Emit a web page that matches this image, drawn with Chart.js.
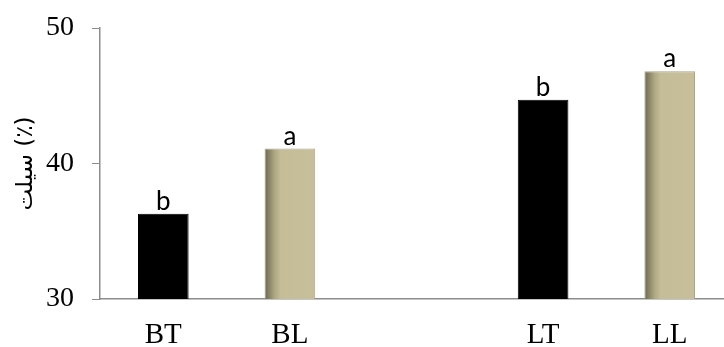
<!DOCTYPE html>
<html>
<head>
    <title>Silt chart</title>
    <script src="https://cdn.jsdelivr.net/npm/chart.js"></script>
    <style>
        body {
            margin: 0;
            padding: 0;
            background: white;
            overflow: hidden;
        }
        #chart-container {
            width: 734px;
            height: 347px;
        }
    </style>
</head>
<body>

<div id="chart-container">
    <canvas id="siltChart"></canvas>
</div>

<script>
    // categories (empty slot makes the gap between the two groups)
    const labels = ['BT', 'BL', '', 'LT', 'LL'];
    const siltValues = [36.3, 41.1, null, 44.7, 46.8];
    const letters = ['b', 'a', '', 'b', 'a'];
    const yTicks = [30, 40, 50];

    const barPct = 0.4;

    function barColor(ctx) {
        const i = ctx.dataIndex;
        if (i === 0 || i === 3) return '#000000';
        const chart = ctx.chart;
        const xs = chart.scales.x;
        if (!xs || !chart.chartArea) return '#c4bd97';
        const cx = xs.getPixelForValue(i);
        const half = xs.width / labels.length * barPct / 2;
        const g = chart.ctx.createLinearGradient(cx - half, 0, cx + half, 0);
        g.addColorStop(0, '#6b664f');
        g.addColorStop(0.2, '#aea883');
        g.addColorStop(0.32, '#c4bd97');
        g.addColorStop(1, '#c6bf9a');
        return g;
    }

    const letterPlugin = {
        id: 'letters',
        afterDatasetsDraw(chart) {
            const c = chart.ctx;
            const meta = chart.getDatasetMeta(0);
            c.save();
            c.font = '26px Lato, sans-serif';
            c.fillStyle = '#000';
            c.textAlign = 'center';
            c.textBaseline = 'alphabetic';
            meta.data.forEach((bar, i) => {
                if (!letters[i] || siltValues[i] == null) return;
                c.fillText(letters[i], bar.x, bar.y - 4);
            });
            c.restore();
        }
    };

    new Chart(document.getElementById('siltChart'), {
        type: 'bar',
        data: {
            labels: labels,
            datasets: [{
                data: siltValues,
                backgroundColor: barColor,
                borderColor: ['#000', '#a8a38a', '#000', '#000', '#a8a38a'],
                borderWidth: 1,
                barPercentage: barPct,
                categoryPercentage: 1
            }]
        },
        options: {
            responsive: true,
            maintainAspectRatio: false,
            animation: false,
            layout: {
                padding: { top: 28, right: 1, left: 0, bottom: 0 }
            },
            plugins: {
                legend: { display: false },
                tooltip: { enabled: false }
            },
            scales: {
                y: {
                    min: 30,
                    max: 50,
                    afterFit(scale) {
                        scale.width = 100;
                        scale.paddingTop = 0;
                        scale.paddingBottom = 0;
                    },
                    afterBuildTicks(scale) {
                        scale.ticks = yTicks.map(v => ({ value: v }));
                    },
                    ticks: {
                        color: '#000',
                        padding: 18,
                        font: { family: '"Liberation Serif", serif', size: 28 }
                    },
                    grid: {
                        drawOnChartArea: false,
                        drawTicks: true,
                        tickLength: 8,
                        color: '#8c8c8c'
                    },
                    border: { display: true, color: '#8c8c8c', width: 1.5 },
                    title: {
                        display: true,
                        text: 'سیلت (٪)',
                        color: '#000',
                        padding: { top: 12, bottom: 0 },
                        font: { family: '"DejaVu Sans", sans-serif', size: 23 }
                    }
                },
                x: {
                    afterFit(scale) { scale.height = 48; },
                    ticks: {
                        color: '#000',
                        padding: 11,
                        font: { family: '"Liberation Serif", serif', size: 29 }
                    },
                    grid: { display: false },
                    border: { display: true, color: '#8c8c8c', width: 1.5 }
                }
            }
        },
        plugins: [letterPlugin]
    });
</script>

</body>
</html>
